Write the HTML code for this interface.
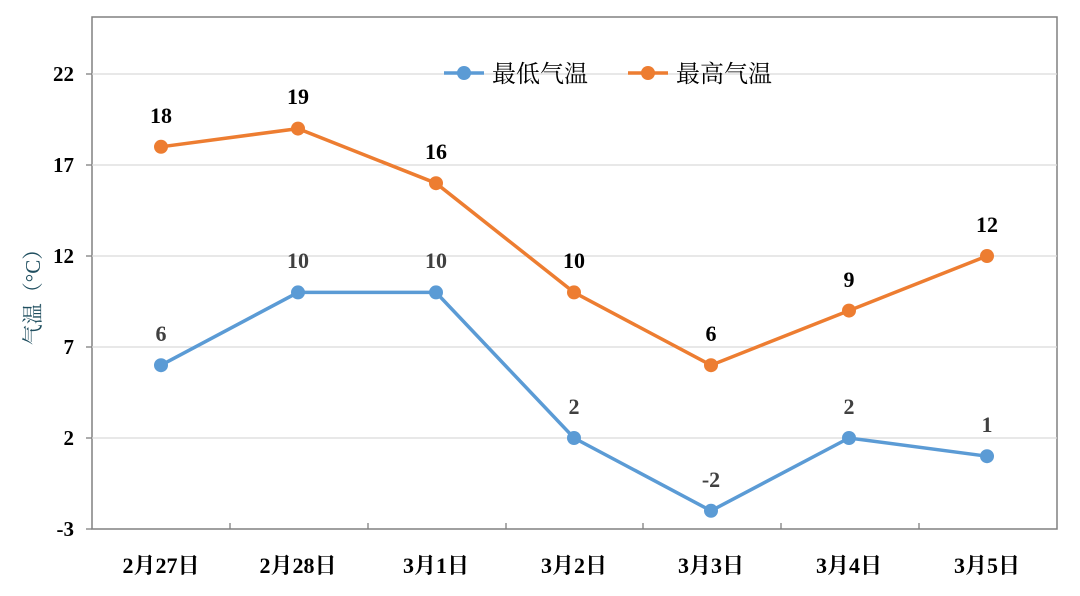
<!DOCTYPE html>
<html><head><meta charset="utf-8"><style>
body{margin:0;background:#fff}
svg text{font-family:"Liberation Serif","Noto Serif CJK SC",serif}
</style></head><body>
<svg width="1080" height="591" xmlns="http://www.w3.org/2000/svg">
<rect x="92" y="17" width="965" height="512" fill="none" stroke="#808080" stroke-width="1.5"/>
<g stroke="#d9d9d9" stroke-width="1.3">
<line x1="92" x2="1057" y1="74" y2="74"/><line x1="92" x2="1057" y1="165" y2="165"/>
<line x1="92" x2="1057" y1="256" y2="256"/><line x1="92" x2="1057" y1="347" y2="347"/>
<line x1="92" x2="1057" y1="438" y2="438"/></g>
<g stroke="#808080" stroke-width="1.3">
<line x1="86" x2="92" y1="74" y2="74"/><line x1="86" x2="92" y1="165" y2="165"/><line x1="86" x2="92" y1="256" y2="256"/><line x1="86" x2="92" y1="347" y2="347"/><line x1="86" x2="92" y1="438" y2="438"/><line x1="86" x2="92" y1="529" y2="529"/>
<line x1="230" x2="230" y1="523" y2="529"/><line x1="368" x2="368" y1="523" y2="529"/><line x1="506" x2="506" y1="523" y2="529"/><line x1="643" x2="643" y1="523" y2="529"/><line x1="781" x2="781" y1="523" y2="529"/><line x1="919" x2="919" y1="523" y2="529"/></g>
<g font-size="21" font-weight="bold" text-anchor="end" fill="#000">
<text x="74" y="81">22</text><text x="74" y="172">17</text><text x="74" y="263">12</text><text x="74" y="354">7</text><text x="74" y="445">2</text><text x="74" y="536">-3</text></g>
<text transform="translate(40,292) rotate(-90)" font-size="21" text-anchor="middle" fill="#1f4e5f">气温（°C）</text>
<g font-size="22" font-weight="bold" text-anchor="middle">
<text x="161" y="573">2月27日</text><text x="298" y="573">2月28日</text><text x="436" y="573">3月1日</text><text x="574" y="573">3月2日</text><text x="711" y="573">3月3日</text><text x="849" y="573">3月4日</text><text x="987" y="573">3月5日</text></g>
<polyline fill="none" stroke="#5b9bd5" stroke-width="3.5" points="161,365.2 298,292.4 436,292.4 574,438 711,510.8 849,438 987,456.2"/>
<polyline fill="none" stroke="#ed7d31" stroke-width="3.5" points="161,146.8 298,128.6 436,183.2 574,292.4 711,365.2 849,310.6 987,256"/>
<g fill="#5b9bd5"><circle cx="161" cy="365.2" r="7"/><circle cx="298" cy="292.4" r="7"/><circle cx="436" cy="292.4" r="7"/><circle cx="574" cy="438" r="7"/><circle cx="711" cy="510.8" r="7"/><circle cx="849" cy="438" r="7"/><circle cx="987" cy="456.2" r="7"/></g>
<g fill="#ed7d31"><circle cx="161" cy="146.8" r="7"/><circle cx="298" cy="128.6" r="7"/><circle cx="436" cy="183.2" r="7"/><circle cx="574" cy="292.4" r="7"/><circle cx="711" cy="365.2" r="7"/><circle cx="849" cy="310.6" r="7"/><circle cx="987" cy="256" r="7"/></g>
<g font-size="22" font-weight="bold" text-anchor="middle" fill="#404040">
<text x="161" y="341">6</text><text x="298" y="268">10</text><text x="436" y="268">10</text><text x="574" y="414">2</text><text x="711" y="487">-2</text><text x="849" y="414">2</text><text x="987" y="432">1</text></g>
<g font-size="22" font-weight="bold" text-anchor="middle" fill="#000">
<text x="161" y="123">18</text><text x="298" y="104">19</text><text x="436" y="159">16</text><text x="574" y="268">10</text><text x="711" y="341">6</text><text x="849" y="287">9</text><text x="987" y="232">12</text></g>
<line x1="444" x2="484" y1="73" y2="73" stroke="#5b9bd5" stroke-width="3.5"/><circle cx="464" cy="73" r="7" fill="#5b9bd5"/>
<text x="492" y="82" font-size="24" fill="#000">最低气温</text>
<line x1="628" x2="668" y1="73" y2="73" stroke="#ed7d31" stroke-width="3.5"/><circle cx="648" cy="73" r="7" fill="#ed7d31"/>
<text x="676" y="82" font-size="24" fill="#000">最高气温</text>
</svg>
</body></html>
